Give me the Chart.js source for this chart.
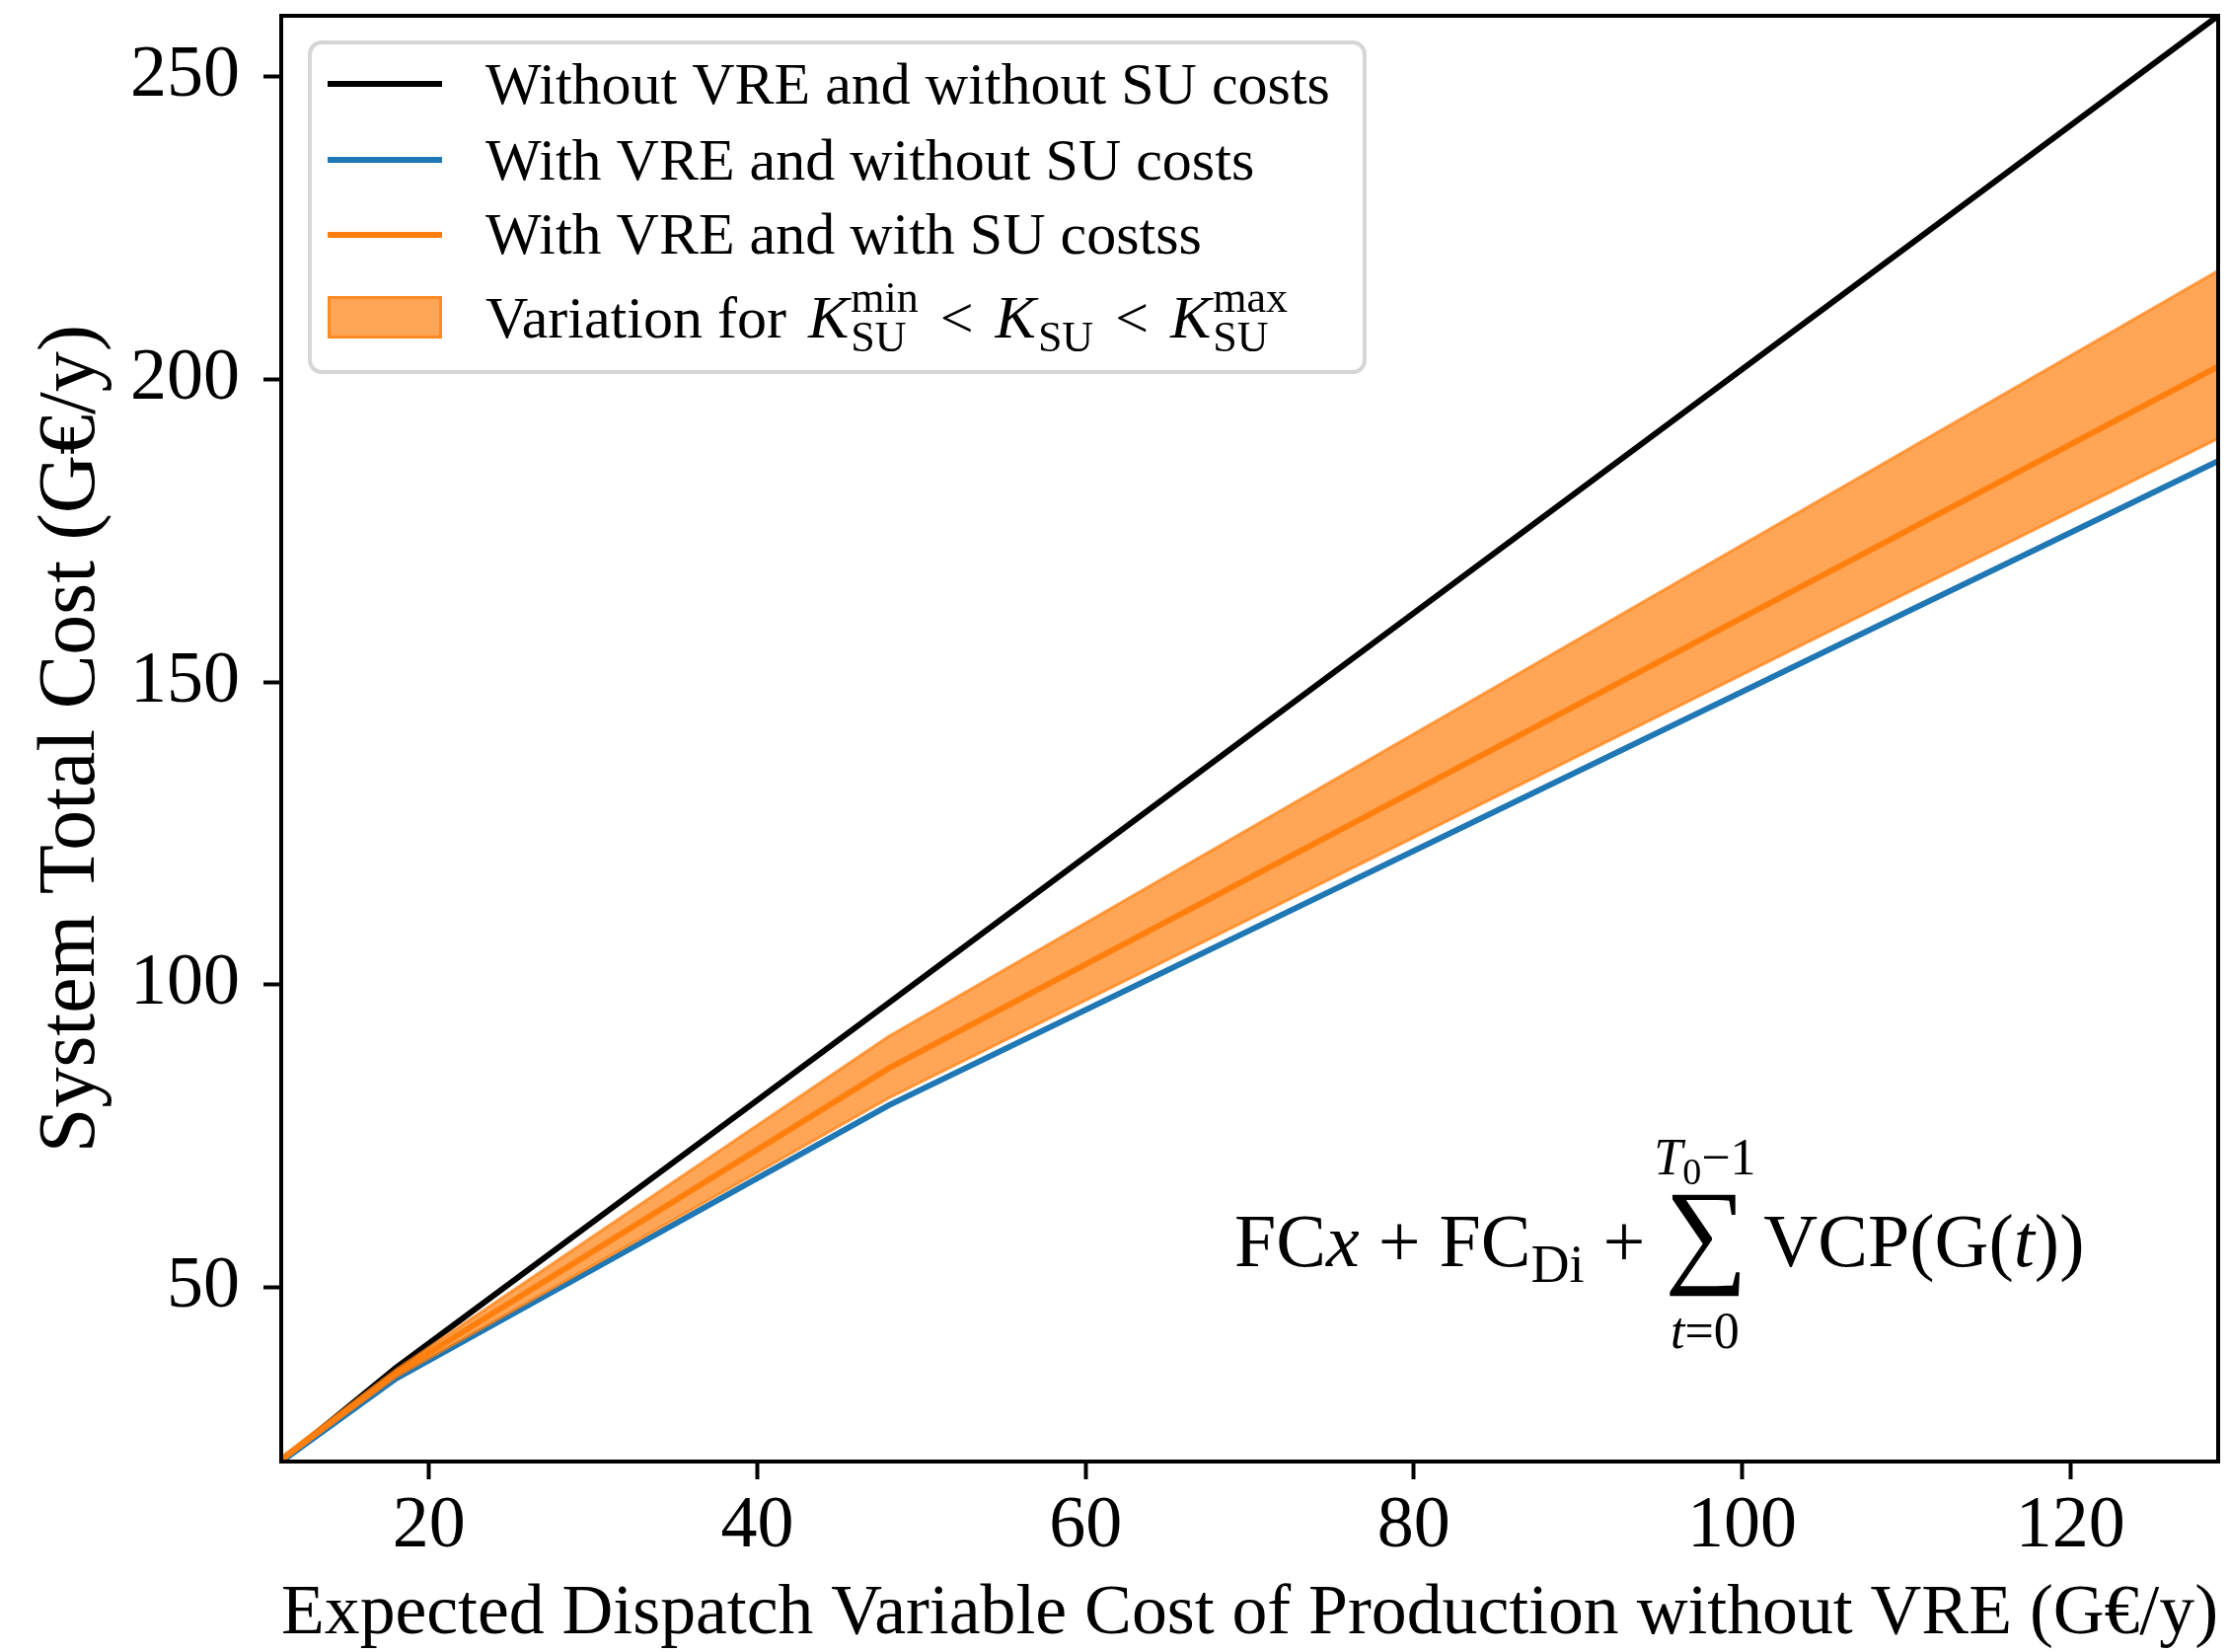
<!DOCTYPE html>
<html lang="en">
<head>
<meta charset="UTF-8">
<title>System Total Cost</title>
<script src="https://cdn.jsdelivr.net/npm/chart.js"></script>
<style>
    html, body { margin: 0; padding: 0; background: #fff; }
    #wrap { width: 2260px; height: 1674px; }
</style>
</head>
<body>
<div id="wrap"><canvas id="costChart" width="2260" height="1674"></canvas></div>
<script>
// Expected dispatch variable cost of production without VRE (G€/y)
const dispatchCost = [11, 18, 48, 129];
// System total cost (G€/y)
const noVreNoSu = [21.3, 36.8, 97.0, 260];
const vreNoSu = [21.3, 35.0, 80.1, 186.5];
const vreWithSu = [21.6, 35.9, 86.2, 202.1];
const suUpper = [22.0, 36.5, 91.5, 217.9];
const suLower = [21.3, 35.3, 81.3, 190.2];

const xTicks = [20, 40, 60, 80, 100, 120];
const yTicks = [50, 100, 150, 200, 250];
const seriesLabels = [
    'Without VRE and without SU costs',
    'With VRE and without SU costs',
    'With VRE and with SU costss'
];

const SERIF = "'Liberation Serif', 'Times New Roman', serif";
const BLUE = '#1f77b4';
const ORANGE = '#ff7f0e';
const BAND = 'rgba(255, 127, 14, 0.7)';

function pts(ys) {
    return dispatchCost.map((x, i) => ({ x: x, y: ys[i] }));
}

// draw a list of text runs along a baseline, returns the end x
function drawRuns(ctx, x, y, runs) {
    runs.forEach(r => {
        if (r.gap !== undefined) {
            x += r.gap;
        } else if (r.sub !== undefined || r.sup !== undefined) {
            ctx.font = r.subFont;
            let w = 0;
            if (r.sub !== undefined) {
                ctx.fillText(r.sub, x, y + r.subDy);
                w = Math.max(w, ctx.measureText(r.sub).width);
            }
            if (r.sup !== undefined) {
                ctx.fillText(r.sup, x, y + r.supDy);
                w = Math.max(w, ctx.measureText(r.sup).width);
            }
            x += w;
        } else {
            ctx.font = r.font;
            ctx.fillText(r.text, x, y);
            x += ctx.measureText(r.text).width;
        }
    });
    return x;
}

function runsWidth(ctx, runs) {
    let w = 0;
    runs.forEach(r => {
        if (r.gap !== undefined) {
            w += r.gap;
        } else if (r.sub !== undefined || r.sup !== undefined) {
            ctx.font = r.subFont;
            w += Math.max(r.sub ? ctx.measureText(r.sub).width : 0, r.sup ? ctx.measureText(r.sup).width : 0);
        } else {
            ctx.font = r.font;
            w += ctx.measureText(r.text).width;
        }
    });
    return w;
}

const frameAndLegend = {
    id: 'frameAndLegend',
    afterDatasetsDraw(chart) {
        const { ctx, chartArea: a } = chart;
        ctx.save();
        ctx.strokeStyle = '#000';
        ctx.lineWidth = 4;
        ctx.strokeRect(a.left, a.top, a.right - a.left, a.bottom - a.top);
        ctx.restore();
    },
    afterDraw(chart) {
        const ctx = chart.ctx;
        ctx.save();

        // legend box
        ctx.beginPath();
        ctx.roundRect(314, 43, 1069, 334, 12);
        ctx.fillStyle = 'rgba(255,255,255,0.8)';
        ctx.fill();
        ctx.strokeStyle = '#d6d6d6';
        ctx.lineWidth = 4;
        ctx.stroke();

        const colors = ['#000', BLUE, ORANGE];
        const rowY = [85, 162, 238];
        const baseY = [105, 182, 257];
        const legFont = '60px ' + SERIF;
        ctx.textBaseline = 'alphabetic';
        ctx.textAlign = 'left';
        seriesLabels.forEach((lab, i) => {
            ctx.strokeStyle = colors[i];
            ctx.lineWidth = 6;
            ctx.beginPath();
            ctx.moveTo(332, rowY[i]);
            ctx.lineTo(448, rowY[i]);
            ctx.stroke();
            ctx.fillStyle = '#000';
            ctx.font = legFont;
            ctx.fillText(lab, 492, baseY[i]);
        });

        // band patch
        ctx.fillStyle = BAND;
        ctx.fillRect(332, 300, 116, 43);
        ctx.strokeStyle = BAND;
        ctx.lineWidth = 3;
        ctx.strokeRect(333.5, 301.5, 113, 40);

        ctx.fillStyle = '#000';
        const it = 'italic 62px ' + SERIF;
        const sm = '44px ' + SERIF;
        drawRuns(ctx, 492, 342, [
            { text: 'Variation for', font: legFont },
            { gap: 22 },
            { text: 'K', font: it },
            { gap: 2 },
            { sub: 'SU', sup: 'min', subFont: sm, subDy: 14, supDy: -26 },
            { gap: 22 },
            { text: '<', font: legFont },
            { gap: 22 },
            { text: 'K', font: it },
            { gap: 2 },
            { sub: 'SU', subFont: sm, subDy: 14 },
            { gap: 22 },
            { text: '<', font: legFont },
            { gap: 22 },
            { text: 'K', font: it },
            { gap: 2 },
            { sub: 'SU', sup: 'max', subFont: sm, subDy: 14, supDy: -26 }
        ]);

        // cost formula annotation
        const fF = '76px ' + SERIF;
        const fI = 'italic 76px ' + SERIF;
        const fS = '54px ' + SERIF;
        const base = 1283;
        let x = drawRuns(ctx, 1251, base, [
            { text: 'FC', font: fF },
            { text: 'x', font: fI },
            { text: ' + FC', font: fF },
            { sub: 'Di', subFont: fS, subDy: 16 },
            { text: ' + ', font: fF }
        ]);
        // summation sign scaled to its box
        ctx.font = '100px ' + SERIF;
        const m = ctx.measureText('\u2211');
        const h = m.actualBoundingBoxAscent + m.actualBoundingBoxDescent;
        const s = 104 / h;
        ctx.font = (100 * s).toFixed(1) + 'px ' + SERIF;
        const sm2 = ctx.measureText('\u2211');
        const sigW = sm2.actualBoundingBoxRight + sm2.actualBoundingBoxLeft;
        x += 6;
        ctx.fillText('\u2211', x + sm2.actualBoundingBoxLeft, 1210 + sm2.actualBoundingBoxAscent);
        const cx = x + sigW / 2;
        const upper = [
            { text: 'T', font: 'italic 52px ' + SERIF },
            { sub: '0', subFont: '38px ' + SERIF, subDy: 10 },
            { text: '\u22121', font: '52px ' + SERIF }
        ];
        drawRuns(ctx, cx - runsWidth(ctx, upper) / 2, 1190, upper);
        const lower = [
            { text: 't', font: 'italic 52px ' + SERIF },
            { text: '=0', font: '52px ' + SERIF }
        ];
        drawRuns(ctx, cx - runsWidth(ctx, lower) / 2, 1366, lower);
        x += sigW + 24;
        drawRuns(ctx, x, base, [
            { text: 'VCP(G(', font: fF },
            { text: 't', font: fI },
            { text: '))', font: fF }
        ]);
        ctx.restore();
    }
};

const ctx = document.getElementById('costChart').getContext('2d');
const costChart = new Chart(ctx, {
    type: 'line',
    data: {
        datasets: [
            {
                label: seriesLabels[2],
                data: pts(vreWithSu),
                borderColor: ORANGE,
                borderWidth: 6,
                order: 0
            },
            {
                label: 'upper',
                data: pts(suUpper),
                borderColor: BAND,
                borderWidth: 3,
                backgroundColor: BAND,
                fill: '+1',
                order: 1
            },
            {
                label: 'lower',
                data: pts(suLower),
                borderColor: BAND,
                borderWidth: 3,
                order: 1
            },
            {
                label: seriesLabels[1],
                data: pts(vreNoSu),
                borderColor: BLUE,
                borderWidth: 6,
                order: 2
            },
            {
                label: seriesLabels[0],
                data: pts(noVreNoSu),
                borderColor: '#000',
                borderWidth: 6,
                order: 3
            }
        ]
    },
    options: {
        responsive: false,
        animation: false,
        devicePixelRatio: 1,
        elements: { point: { radius: 0 }, line: { tension: 0 } },
        layout: { padding: { left: 0, top: 16, right: 12, bottom: 0 } },
        plugins: { legend: { display: false }, tooltip: { enabled: false } },
        scales: {
            x: {
                type: 'linear',
                min: 11,
                max: 129,
                afterBuildTicks: s => { s.ticks = xTicks.map(v => ({ value: v })); },
                afterFit: s => { s.height = 193; s.paddingLeft = 0; s.paddingRight = 0; },
                ticks: { color: '#000', font: { family: SERIF, size: 74 }, padding: 4, maxRotation: 0, autoSkip: false },
                grid: { drawOnChartArea: false, drawTicks: true, tickLength: 18, tickWidth: 4, tickColor: '#000' },
                border: { display: true, color: '#000', width: 4 },
                title: {
                    display: true,
                    text: 'Expected Dispatch Variable Cost of Production without VRE (G\u20ac/y)',
                    color: '#000',
                    font: { family: SERIF, size: 72, lineHeight: 1 },
                    padding: { top: 0, bottom: 2 }
                }
            },
            y: {
                type: 'linear',
                min: 21.3,
                max: 260,
                afterBuildTicks: s => { s.ticks = yTicks.map(v => ({ value: v })); },
                afterFit: s => { s.width = 285; s.paddingTop = 0; s.paddingBottom = 0; },
                ticks: { color: '#000', font: { family: SERIF, size: 74 }, padding: 24 },
                grid: { drawOnChartArea: false, drawTicks: true, tickLength: 18, tickWidth: 4, tickColor: '#000' },
                border: { display: true, color: '#000', width: 4 },
                title: {
                    display: true,
                    text: 'System Total Cost (G\u20ac/y)',
                    color: '#000',
                    font: { family: SERIF, size: 82, lineHeight: 1 },
                    padding: { top: 32, bottom: 0 }
                }
            }
        }
    },
    plugins: [frameAndLegend]
});
</script>
</body>
</html>
